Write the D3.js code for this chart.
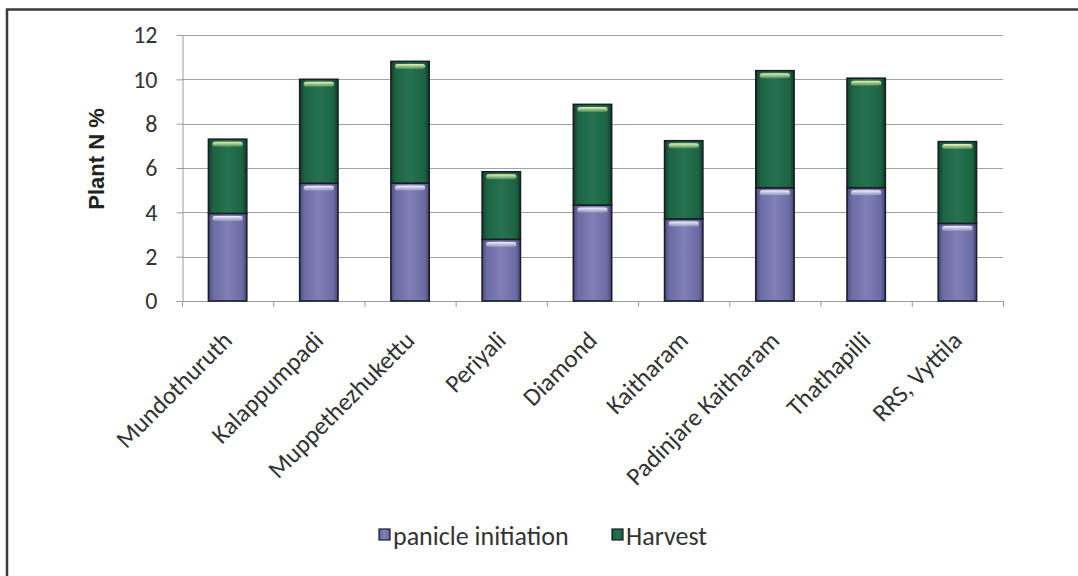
<!DOCTYPE html>
<html>
<head>
<meta charset="utf-8">
<script src="https://cdn.jsdelivr.net/npm/d3@7"></script>
<style>
  html, body { margin: 0; padding: 0; background: #fff; }
  svg { display: block; }
</style>
</head>
<body>
<svg id="chart" width="1078" height="576"></svg>
<script>
// Plant N % by location, split into panicle initiation and harvest stages
const categories = ["Mundothuruth", "Kalappumpadi", "Muppethezhukettu", "Periyali", "Diamond",
                    "Kaitharam", "Padinjare Kaitharam", "Thathapilli", "RRS, Vyttila"];
const panicleInitiation = [3.95, 5.31, 5.32, 2.78, 4.33, 3.70, 5.11, 5.11, 3.50];
const harvest = [3.35, 4.69, 5.49, 3.05, 4.54, 3.53, 5.28, 4.94, 3.69];
const seriesNames = ["panicle initiation", "Harvest"];
const yTicks = [0, 2, 4, 6, 8, 10, 12];
const yTitle = "Plant N %";

const svg = d3.select("#chart");
const W = 1078, H = 576;
const plot = { left: 182, right: 1003, top: 35, bottom: 301 };
const labelFont = "Carlito, Calibri, Lato, sans-serif";

// outer frame (top and left edges)
svg.append("path")
  .attr("d", `M7,${H} L7,9.5 L${W},9.5`)
  .attr("fill", "none").attr("stroke", "#3a3a3a").attr("stroke-width", 2.5);

const rows = categories.map((c, i) => ({ cat: c, pi: panicleInitiation[i], hv: harvest[i] }));
const stack = d3.stack().keys(["pi", "hv"]);
const layers = stack(rows);

const x = d3.scaleBand().domain(categories)
  .range([plot.left, plot.right]).paddingInner(0.58).paddingOuter(0.29);
const y = d3.scaleLinear().domain([0, 12]).range([plot.bottom, plot.top]);

// gradients
const defs = svg.append("defs");
const palettes = [
  { id: "g-pi", stops: [["0%", "#4a4a7e"], ["12%", "#6c6ca4"], ["50%", "#8080b8"], ["88%", "#6c6ca4"], ["100%", "#46467a"]],
    hi: "#f2f2fc" },
  { id: "g-hv", stops: [["0%", "#0d4029"], ["12%", "#1c6342"], ["50%", "#267250"], ["88%", "#1c6342"], ["100%", "#0c3e27"]],
    hi: "#eaf8b4" }
];
palettes.forEach(p => {
  const g = defs.append("linearGradient").attr("id", p.id)
    .attr("x1", "0%").attr("x2", "100%").attr("y1", "0%").attr("y2", "0%");
  p.stops.forEach(s => g.append("stop").attr("offset", s[0]).attr("stop-color", s[1]));
  const h = defs.append("linearGradient").attr("id", p.id + "-hi")
    .attr("x1", "0%").attr("x2", "0%").attr("y1", "0%").attr("y2", "100%");
  h.append("stop").attr("offset", "0%").attr("stop-color", p.hi).attr("stop-opacity", 1);
  h.append("stop").attr("offset", "100%").attr("stop-color", p.hi).attr("stop-opacity", 0.2);
});

// gridlines
svg.append("g").selectAll("line").data(yTicks.filter(t => t > 0)).join("line")
  .attr("x1", plot.left).attr("x2", plot.right)
  .attr("y1", d => Math.round(y(d)) + 0.5).attr("y2", d => Math.round(y(d)) + 0.5)
  .attr("stroke", "#a3a3a3").attr("stroke-width", 1);

// y axis
const yAxis = svg.append("g").attr("transform", `translate(${plot.left + 0.5},0)`)
  .call(d3.axisLeft(y).tickValues(yTicks).tickSize(6).tickPadding(19).tickSizeOuter(0));
yAxis.select(".domain").attr("stroke", "#9a9a9a");
yAxis.selectAll(".tick line").attr("stroke", "#9a9a9a");
yAxis.selectAll(".tick text")
  .attr("font-family", labelFont).attr("font-size", 24).attr("fill", "#333");

// x axis line and tick marks at category boundaries
svg.append("line")
  .attr("x1", plot.left).attr("x2", plot.right)
  .attr("y1", plot.bottom + 0.5).attr("y2", plot.bottom + 0.5)
  .attr("stroke", "#9a9a9a");
svg.append("g").selectAll("line").data(d3.range(categories.length + 1)).join("line")
  .attr("x1", i => plot.left + i * x.step() + 0.5).attr("x2", i => plot.left + i * x.step() + 0.5)
  .attr("y1", plot.bottom).attr("y2", plot.bottom + 6)
  .attr("stroke", "#9a9a9a");

// stacked bars
layers.forEach((layer, li) => {
  const p = palettes[li];
  const g = svg.append("g");
  g.selectAll("rect.seg").data(layer).join("rect").attr("class", "seg")
    .attr("x", d => x(d.data.cat))
    .attr("width", x.bandwidth())
    .attr("y", d => y(d[1]))
    .attr("height", d => y(d[0]) - y(d[1]))
    .attr("fill", `url(#${p.id})`)
    .attr("stroke", "#1c1c28").attr("stroke-width", 1.6);
  // top highlight
  g.selectAll("rect.hi").data(layer).join("rect").attr("class", "hi")
    .attr("x", d => x(d.data.cat) + 4)
    .attr("width", x.bandwidth() - 8)
    .attr("y", d => y(d[1]) + 2.5)
    .attr("height", 5)
    .attr("rx", 2.5)
    .attr("fill", `url(#${p.id}-hi)`);
});

// category labels
svg.append("g").selectAll("text").data(categories).join("text")
  .attr("transform", d => `translate(${x(d) + x.bandwidth() / 2 + 6},${plot.bottom + 41}) rotate(-45)`)
  .attr("text-anchor", "end")
  .attr("font-family", labelFont).attr("font-size", 25).attr("fill", "#333")
  .text(d => d);

// y title
svg.append("text")
  .attr("transform", "translate(104,159) rotate(-90)")
  .attr("text-anchor", "middle")
  .attr("font-family", "Liberation Sans, Arial, sans-serif").attr("font-weight", "bold")
  .attr("font-size", 22).attr("fill", "#222")
  .text(yTitle);

// legend
const legend = svg.append("g");
const legendX = [379, 612];
seriesNames.forEach((name, i) => {
  const p = palettes[i];
  legend.append("rect")
    .attr("x", legendX[i]).attr("y", 529).attr("width", 11).attr("height", 11)
    .attr("fill", `url(#${p.id})`).attr("stroke", "#1c1c28").attr("stroke-width", 1.2);
  legend.append("text")
    .attr("x", legendX[i] + 14).attr("y", 545)
    .attr("font-family", labelFont).attr("font-size", 26).attr("fill", "#333")
    .text(name);
});
</script>
</body>
</html>
